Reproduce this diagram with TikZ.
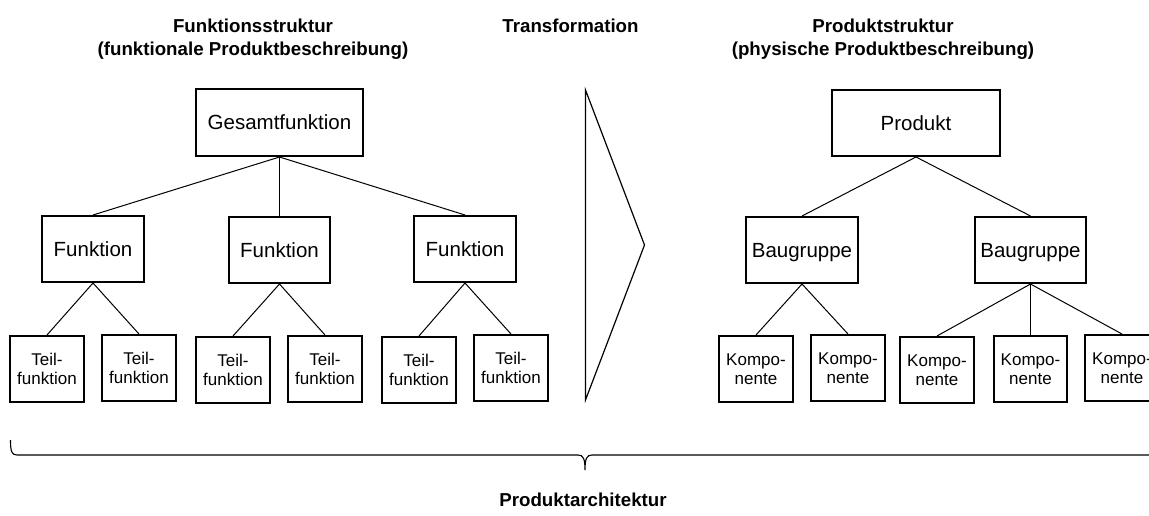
\documentclass[tikz,border=0pt]{standalone}
\usepackage{fontspec}
\setmainfont{Liberation Sans}
\begin{document}
\begin{tikzpicture}[x=1pt,y=-1pt,
  box/.style={draw,line width=2pt,inner sep=0pt,align=center},
  big/.style={box,font=\fontsize{20.5}{24}\selectfont,text height=14.7pt,text depth=0pt,minimum height=66pt},
  small/.style={box,font=\fontsize{17}{19.5}\selectfont,minimum width=74pt,minimum height=66pt},
  link/.style={line width=1pt},
  title/.style={font=\bfseries\fontsize{18.7}{23.3}\selectfont,align=center,anchor=north,inner sep=0pt}]
\useasboundingbox (0,0) rectangle (1149,515);
\clip (0,0) rectangle (1149,515);

% headings
\node[title] (tf) at (253,18.6) {Funktionsstruktur\\(funktionale Produktbeschreibung)};
\node[title] (tt) at (570.5,18.6) {Transformation};
\node[title] (tp) at (883,18.6) {Produktstruktur\\(physische Produktbeschreibung)};

% function structure
\node[big,minimum width=167pt,minimum height=67pt] (g) at (279.5,122.5) {Gesamtfunktion};
\node[big,minimum width=102pt] (f1) at (93,249) {Funktion};
\node[big,minimum width=101pt] (f2) at (279.5,250) {Funktion};
\node[big,minimum width=102pt] (f3) at (465,249) {Funktion};
\node[small] (t1) at (47,369) {Teil-\\funktion};
\node[small] (t2) at (139,368) {Teil-\\funktion};
\node[small] (t3) at (233,370) {Teil-\\funktion};
\node[small] (t4) at (325,369) {Teil-\\funktion};
\node[small] (t5) at (419,370) {Teil-\\funktion};
\node[small] (t6) at (511,368) {Teil-\\funktion};

\foreach \c in {f1,f2,f3} \draw[link] (g.south) -- (\c.north);
\draw[link] (f1.south) -- (t1.north);
\draw[link] (f1.south) -- (t2.north);
\draw[link] (f2.south) -- (t3.north);
\draw[link] (f2.south) -- (t4.north);
\draw[link] (f3.south) -- (t5.north);
\draw[link] (f3.south) -- (t6.north);

% transformation arrow
\draw[line width=1.2pt,line join=miter] (585.5,90) -- (644.5,245) -- (585.5,400) -- cycle;

% product structure
\node[big,minimum width=168pt] (p) at (916,123) {Produkt};
\node[big,minimum width=112pt] (b1) at (802,250) {Baugruppe};
\node[big,minimum width=111pt] (b2) at (1030.5,250) {Baugruppe};
\node[small] (k1) at (756,369) {Kompo-\\nente};
\node[small] (k2) at (848,368) {Kompo-\\nente};
\node[small] (k3) at (937,370) {Kompo-\\nente};
\node[small,minimum width=73pt] (k4) at (1030.5,369) {Kompo-\\nente};
\node[small] (k5) at (1122,368) {Kompo-\\nente};

\draw[link] (p.south) -- (b1.north);
\draw[link] (p.south) -- (b2.north);
\draw[link] (b1.south) -- (k1.north);
\draw[link] (b1.south) -- (k2.north);
\draw[link] (b2.south) -- (k3.north);
\draw[link] (b2.south) -- (k4.north);
\draw[link] (b2.south) -- (k5.north);

% brace spanning both structures
\draw[line width=1.1pt]
  (10.5,440) .. controls (10.5,451) and (11.5,455) .. (17,455)
  -- (578,455) .. controls (583,455) and (585,458) .. (585,470)
  .. controls (585,458) and (587,455) .. (592,455)
  -- (1153,455) .. controls (1158.5,455) and (1159.5,451) .. (1159.5,440);
\node[title] (pa) at (583,492.5) {Produktarchitektur};
\end{tikzpicture}
\end{document}
